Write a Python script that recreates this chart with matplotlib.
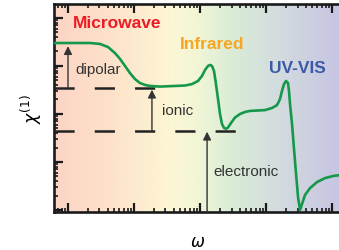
import numpy as np
import matplotlib
matplotlib.use("Agg")
import matplotlib.pyplot as plt
from matplotlib.colors import LinearSegmentedColormap

plt.rcParams['font.family'] = ['Liberation Sans', 'DejaVu Sans']
plt.rcParams['mathtext.fontset'] = 'dejavusans'

# ---- data ----
log_omega = [-0.212, 0.030, 0.333, 0.485, 0.606, 0.712, 0.788, 0.864, 0.939, 1.015,
             1.091, 1.167, 1.242, 1.394, 1.621, 1.773, 1.879, 1.970, 2.030, 2.076,
             2.121, 2.152, 2.182, 2.212, 2.242, 2.273, 2.303, 2.333, 2.364, 2.394,
             2.424, 2.470, 2.530, 2.606, 2.682, 2.758, 2.879, 2.985, 3.091, 3.167,
             3.212, 3.242, 3.273, 3.303, 3.333, 3.348, 3.364, 3.394, 3.424, 3.455,
             3.485, 3.515, 3.545, 3.591, 3.667, 3.773, 3.894, 4.015, 4.136]
chi = [0.8125, 0.8125, 0.8125, 0.808, 0.793, 0.764, 0.736, 0.702, 0.668, 0.639,
       0.620, 0.611, 0.606, 0.603, 0.606, 0.608, 0.615, 0.630, 0.654, 0.683,
       0.702, 0.707, 0.702, 0.678, 0.615, 0.543, 0.471, 0.423, 0.404, 0.400,
       0.406, 0.428, 0.454, 0.471, 0.481, 0.486, 0.488, 0.490, 0.500, 0.514,
       0.543, 0.582, 0.615, 0.630, 0.620, 0.582, 0.519, 0.423, 0.303, 0.183,
       0.072, 0.010, 0.038, 0.082, 0.115, 0.144, 0.163, 0.173, 0.178]
omega = [10 ** v for v in log_omega]

levels = [0.8125, 0.596, 0.389]           # static, dipolar-removed, ionic-removed
level_ends = [24.0, 418.0]                # extents of the dashed level lines
arrow_omega = [1.0, 18.7, 128.0]          # dipolar, ionic, electronic arrows
arrow_labels = ['dipolar', 'ionic', 'electronic']
region_labels = ['Microwave', 'Infrared', 'UV-VIS']
region_colors = ['#ec1c24', '#f6a623', '#3a5aa8']

# ---- figure ----
fig = plt.figure(figsize=(3.39, 2.51), dpi=100)
ax = fig.add_axes([54 / 339, 38 / 251, 287 / 339, 208 / 251])
ax.set_xscale('log')
ax.set_yscale('log')
ax.set_xlim(10 ** -0.212, 10 ** 4.136)
ax.set_ylim(10 ** -1.042, 10 ** 3.29)

# background gradient
stops = [(0.0, (252/255, 212/255, 196/255)),
         (0.20, (253/255, 226/255, 202/255)),
         (0.40, (253/255, 246/255, 212/255)),
         (0.50, (242/255, 246/255, 214/255)),
         (0.62, (218/255, 236/255, 214/255)),
         (0.78, (211/255, 220/255, 222/255)),
         (1.0, (199/255, 196/255, 227/255))]
cmap = LinearSegmentedColormap.from_list('bg', stops)
grad = np.linspace(0, 1, 512).reshape(1, -1)
ax.imshow(grad, cmap=cmap, aspect='auto', extent=[0, 1, 0, 1],
          transform=ax.transAxes, zorder=0, interpolation='bicubic')

ax.tick_params(which='both', direction='in', top=True, right=True,
               labelbottom=False, labelleft=False, color='#1a1a1a')
ax.tick_params(which='major', length=6.5, width=1.6)
ax.tick_params(which='minor', length=3.2, width=1.2)
for s in ax.spines.values():
    s.set_linewidth(1.9)
    s.set_color('#1a1a1a')
ax.set_xlabel(r'$\omega$', fontsize=12, labelpad=16)
ax.set_ylabel(r'$\chi^{(1)}$', fontsize=12.5, labelpad=7)

ax2 = ax.twinx()
ax2.set_ylim(0, 1)
ax2.set_yticks([])
ax2.tick_params(which='both', right=False)
for s in ax2.spines.values():
    s.set_visible(False)

# curve
ax2.plot(omega, chi, color='#15984a', lw=1.9, zorder=5, solid_capstyle='round')

# dashed level lines
lw_d = 1.8
ax2.plot([ax.get_xlim()[0], level_ends[0]], [levels[1]] * 2, color='#222222',
         lw=lw_d, linestyle=(0, (14.5 / lw_d, 14.5 / lw_d)), zorder=3)
ax2.plot([ax.get_xlim()[0], level_ends[1]], [levels[2]] * 2, color='#222222',
         lw=lw_d, linestyle=(0, (14.5 / lw_d, 14.5 / lw_d)), zorder=3)

# arrows
bases = [levels[1], levels[2], 0.0]
tips = [levels[0] - 0.015, levels[1] - 0.008, levels[2] - 0.003]
for xw, b, t in zip(arrow_omega, bases, tips):
    ax2.annotate('', xy=(xw, t), xytext=(xw, b),
                 arrowprops=dict(arrowstyle='-|>', color='#333333', lw=1.0,
                                 mutation_scale=12, shrinkA=0, shrinkB=0),
                 zorder=4)

# labels
lab_pos = [(1.28, 0.6875), (26.6, 0.49), (157, 0.197)]
for (xw, yv), t in zip(lab_pos, arrow_labels):
    ax2.text(xw, yv, t, fontsize=11, color='#333333', ha='left', va='center')

reg_pos = [(5.5, 0.909), (152, 0.808), (2950, 0.697)]
for (xw, yv), t, c in zip(reg_pos, region_labels, region_colors):
    ax2.text(xw, yv, t, fontsize=12.5, fontweight='bold', color=c,
             ha='center', va='center')

fig.savefig('out.png', dpi=100)
